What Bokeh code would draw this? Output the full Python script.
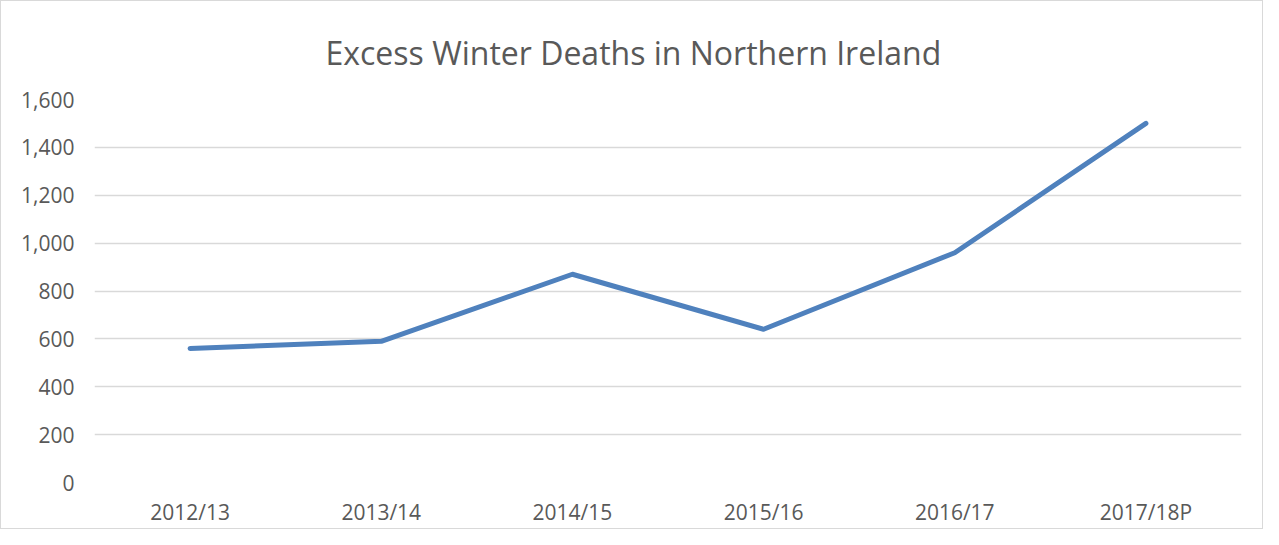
from bokeh.plotting import figure
from bokeh.models import NumeralTickFormatter, FixedTicker, Range1d, FactorRange
from bokeh.embed import file_html
from bokeh.resources import INLINE

seasons = ["2012/13", "2013/14", "2014/15", "2015/16", "2016/17", "2017/18P"]
deaths = [560, 590, 870, 640, 960, 1500]
y_ticks = [0, 200, 400, 600, 800, 1000, 1200, 1400, 1600]
title_text = "Excess Winter Deaths in Northern Ireland"

FONT = "Open Sans"
TXT = "#595959"

p = figure(
    x_range=FactorRange(*seasons, range_padding=0),
    y_range=Range1d(0, 1600),
    width=1263, height=529,
    output_backend="svg", toolbar_location=None,
    min_border_left=93, min_border_right=23, min_border_top=98, min_border_bottom=48,
)
p.x_range.range_padding = 0
p.x_range.factor_padding = 0

# title centred on the whole chart, so left-aligned with an offset from the frame
p.title.text = title_text
p.title.align = "left"
p.title.offset = 231
p.title.vertical_align = "bottom"
p.title.text_font = FONT
p.title.text_font_style = "normal"
p.title.text_font_size = "32px"
p.title.text_color = TXT
p.title.standoff = 52

p.line(seasons, deaths, line_color="#4F81BD", line_width=5, line_cap="round", line_join="round")

p.yaxis.ticker = FixedTicker(ticks=y_ticks)
p.yaxis.formatter = NumeralTickFormatter(format="0,0")
for ax in (p.xaxis[0], p.yaxis[0]):
    ax.axis_line_color = None
    ax.major_tick_line_color = None
    ax.minor_tick_line_color = None
    ax.major_label_text_font = FONT
    ax.major_label_text_font_size = "21px"
    ax.major_label_text_color = TXT
p.yaxis.major_label_standoff = 14
p.xaxis.major_label_standoff = 9

p.xgrid.grid_line_color = None
p.ygrid.grid_line_color = "#D9D9D9"
p.ygrid.grid_line_width = 1.5
p.outline_line_color = None
p.background_fill_color = "white"
p.border_fill_color = "white"
p.styles = {"border": "1px solid #D9D9D9", "box-sizing": "border-box"}

open("out.html", "w").write(file_html(p, INLINE))
